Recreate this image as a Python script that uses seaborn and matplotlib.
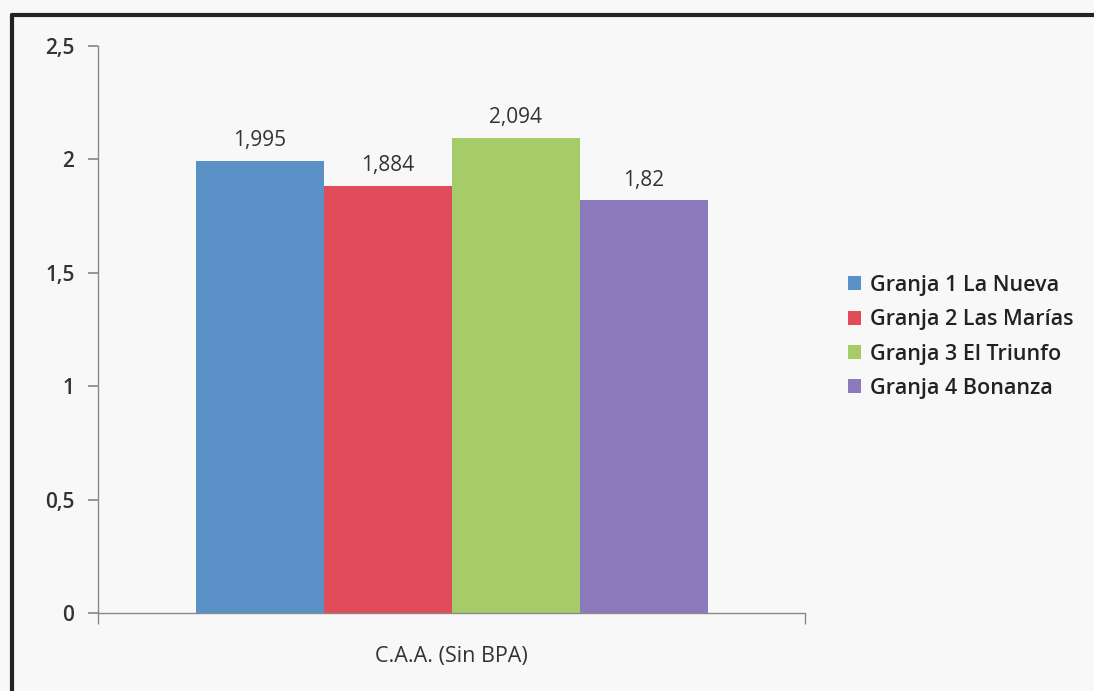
import matplotlib
matplotlib.use("Agg")
import matplotlib.pyplot as plt
import seaborn as sns
import pandas as pd
from matplotlib.lines import Line2D

category = ["C.A.A. (Sin BPA)"]
granjas = ["Granja 1 La Nueva", "Granja 2 Las Marías", "Granja 3 El Triunfo", "Granja 4 Bonanza"]
values = [1.995, 1.884, 2.094, 1.82]
labels = ["1,995", "1,884", "2,094", "1,82"]
colors = ["#5a92c8", "#e04c5a", "#a6cc6a", "#8b7bbd"]
yticks = [0, 0.5, 1, 1.5, 2, 2.5]
ytick_labels = ["0", "0,5", "1", "1,5", "2", "2,5"]

sns.set_theme(style="white")
plt.rcParams["font.family"] = ["Open Sans", "DejaVu Sans"]

df = pd.DataFrame({"cat": category * len(granjas), "granja": granjas, "val": values})

fig = plt.figure(figsize=(10.94, 6.91), dpi=100)
fig.patch.set_facecolor("#f8f8f8")
ax = fig.add_axes([0.0896, 0.1129, 0.6463, 0.8205])
ax.set_facecolor("#f8f8f8")

sns.barplot(data=df, x="cat", y="val", hue="granja", hue_order=granjas,
            palette=colors, width=0.724, saturation=1, ax=ax, legend=True,
            linewidth=0, edgecolor="none")

for bar_container, lab in zip(ax.containers, labels):
    ax.bar_label(bar_container, labels=[lab], padding=7, fontsize=15, color="#333333")

ax.set_xlim(-0.5, 0.5)
ax.set_ylim(0, 2.5)
ax.set_yticks(yticks)
ax.set_yticklabels(ytick_labels, fontsize=15, color="#333333", fontweight="semibold")
ax.set_xticks([0])
ax.set_xticklabels(category, fontsize=15.5, color="#333333")
ax.tick_params(axis="x", length=0, pad=24)
ax.set_xticks([-0.5, 0.5], minor=True)
ax.tick_params(axis="x", which="minor", length=8, color="#8a8a8a", direction="out", bottom=True)
ax.tick_params(axis="y", length=7, color="#8a8a8a", direction="out", left=True, pad=10)
ax.set_xlabel("")
ax.set_ylabel("")
for s in ["top", "right"]:
    ax.spines[s].set_visible(False)
for s in ["left", "bottom"]:
    ax.spines[s].set_color("#8a8a8a")
    ax.spines[s].set_linewidth(1)

leg = ax.legend(loc="center left", bbox_to_anchor=(1.033, 0.487), frameon=False,
                prop={"size": 15.5, "weight": "semibold"},
                handlelength=0.62, handleheight=0.62, handletextpad=0.4,
                labelspacing=0.62)
for t in leg.get_texts():
    t.set_color("#222222")

# outer frame (top and left dark border)
fig.add_artist(Line2D([12/1094, 1.0], [1 - 15/691, 1 - 15/691], color="#222222", lw=3,
                      transform=fig.transFigure))
fig.add_artist(Line2D([12/1094, 12/1094], [1 - 15/691, 0.0], color="#222222", lw=3,
                      transform=fig.transFigure))

fig.savefig("out.png", dpi=100, facecolor=fig.get_facecolor())
